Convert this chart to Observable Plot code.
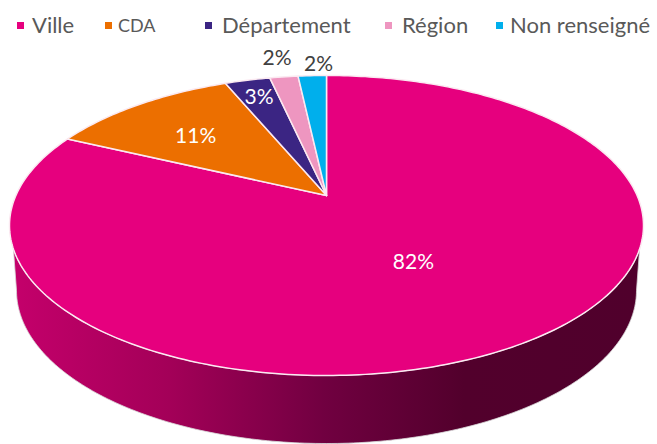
<!DOCTYPE html>
<html><head><meta charset="utf-8">
<script src="https://cdn.jsdelivr.net/npm/d3@7"></script>
<script src="https://cdn.jsdelivr.net/npm/@observablehq/plot@0.6"></script>
<style>
html,body{margin:0;padding:0;background:#fff;overflow:hidden}
#legend{position:relative;height:30px;width:657px;font-family:Lato,sans-serif;color:#595959}
#legend span{position:absolute;white-space:nowrap;line-height:1}
#legend i{position:absolute;width:7px;height:7px}
#chart svg{display:block}
</style></head><body>
<div id="legend"></div><div id="chart"></div>
<script>
const categories = ["Ville", "CDA", "Département", "Région", "Non renseigné"];
const shares = [82, 11.7, 2.8, 1.75, 1.75];
const labels = ["82%", "11%", "3%", "2%", "2%"];
const colors = ["#e6007e", "#ec6f00", "#3b2583", "#ee96c0", "#00afec"];
const labelColors = ["white", "white", "white", "#404040", "#404040"];
const labelRadius = [0.49, 0.64, 0.83, 1.2, 1.15];
const labelNudgeX = [-2, -5, 0, 0, 8];
const labelNudgeY = [2, 2, 0, 1, 3];
const legendSquareX = [17, 105, 205, 385, 496];
const legendTextX = [32, 118, 222, 402, 510];
const legendFont = [22, 18, 22, 22, 22];

// Perspective of the disc: a projective map keeps the rim an ellipse and moves the centre up.
const tilt = 0.2, wallDrop = 65/150, wallRx = 310/317, wallRy = 153/150;
const project = (a, r = 1) => {
  const sx = r*Math.sin(a), sy = r*Math.cos(a), d = 1 + tilt*sy;
  return [sx*Math.sqrt(1 - tilt*tilt)/d, (sy + tilt)/d];
};
const total = d3.sum(shares);
const cum = d3.cumsum(shares);
const sliceRows = categories.flatMap((name, i) => {
  const a0 = ((i ? cum[i-1] : 0)/total)*2*Math.PI, a1 = (cum[i]/total)*2*Math.PI;
  const n = Math.max(4, Math.ceil((a1 - a0)*60));
  const pts = [project(0, 0)];
  for (let k = 0; k <= n; k++) pts.push(project(a0 + (a1 - a0)*k/n));
  pts.push(project(0, 0));
  return pts.map(([x, y]) => ({name, x, y}));
});
const labelRows = categories.map((name, i) => {
  const a = (((i ? cum[i-1] : 0) + cum[i])/2/total)*2*Math.PI;
  const [x, y] = project(a, labelRadius[i]);
  return {x, y, text: labels[i], color: labelColors[i], dx: labelNudgeX[i], dy: labelNudgeY[i]};
});
// Visible wall of the first (largest) slice: under the front rim, down to the lower rim.
const wallRows = [];
const yStart = -0.14;
const rim = d3.range(0, 181).map(k => {const t = Math.PI*k/180; return [Math.cos(t), -Math.sin(t)];});
rim.forEach(p => { if (p[1] <= yStart) wallRows.push({x:p[0], y:p[1]}); });
rim.slice().reverse().forEach(p => wallRows.push({x:p[0]*wallRx, y:p[1]*wallRy - wallDrop}));
wallRows.push(wallRows[0]);

const gradient = () => {
  const ns = "http://www.w3.org/2000/svg";
  const defs = document.createElementNS(ns, "defs");
  const g = document.createElementNS(ns, "linearGradient");
  g.setAttribute("id", "wall");
  [[0,"#c4006b"],[0.25,"#a30058"],[0.5,"#700040"],[0.72,"#52002c"],[1,"#50002c"]].forEach(([o,c]) => {
    const s = document.createElementNS(ns, "stop");
    s.setAttribute("offset", o); s.setAttribute("stop-color", c); g.appendChild(s);
  });
  defs.appendChild(g);
  return defs;
};

const plot = Plot.plot({
  width: 657, height: 414,
  margin: 0,
  x: {domain: [-1, 1], range: [9, 643], axis: null},
  y: {domain: [-1, 1], range: [345, 45], axis: null},
  color: {domain: categories, range: colors},
  style: {background: "transparent"},
  marks: [
    gradient,
    Plot.line(wallRows, {x: "x", y: "y", fill: "url(#wall)", stroke: "#d8d8d8", strokeWidth: 0.8, curve: "linear"}),
    Plot.line(sliceRows, {x: "x", y: "y", z: "name", fill: "name", stroke: "#fbe9f1", strokeWidth: 1.5, curve: "linear", strokeLinejoin: "round"}),
    ...labelRows.map(d => Plot.text([d], {x: "x", y: "y", text: "text", fill: d.color, dx: d.dx, dy: d.dy, fontSize: 21, fontFamily: "Lato, sans-serif"}))
  ]
});
document.getElementById("chart").appendChild(plot);

const lg = document.getElementById("legend");
categories.forEach((name, i) => {
  const sq = document.createElement("i");
  sq.style.cssText = `left:${legendSquareX[i]}px;top:22px;background:${colors[i]}`;
  lg.appendChild(sq);
  const t = document.createElement("span");
  t.textContent = name;
  t.style.cssText = `left:${legendTextX[i]}px;top:${26 - legendFont[i]*0.55}px;font-size:${legendFont[i]}px`;
  lg.appendChild(t);
});
</script>
</body></html>
